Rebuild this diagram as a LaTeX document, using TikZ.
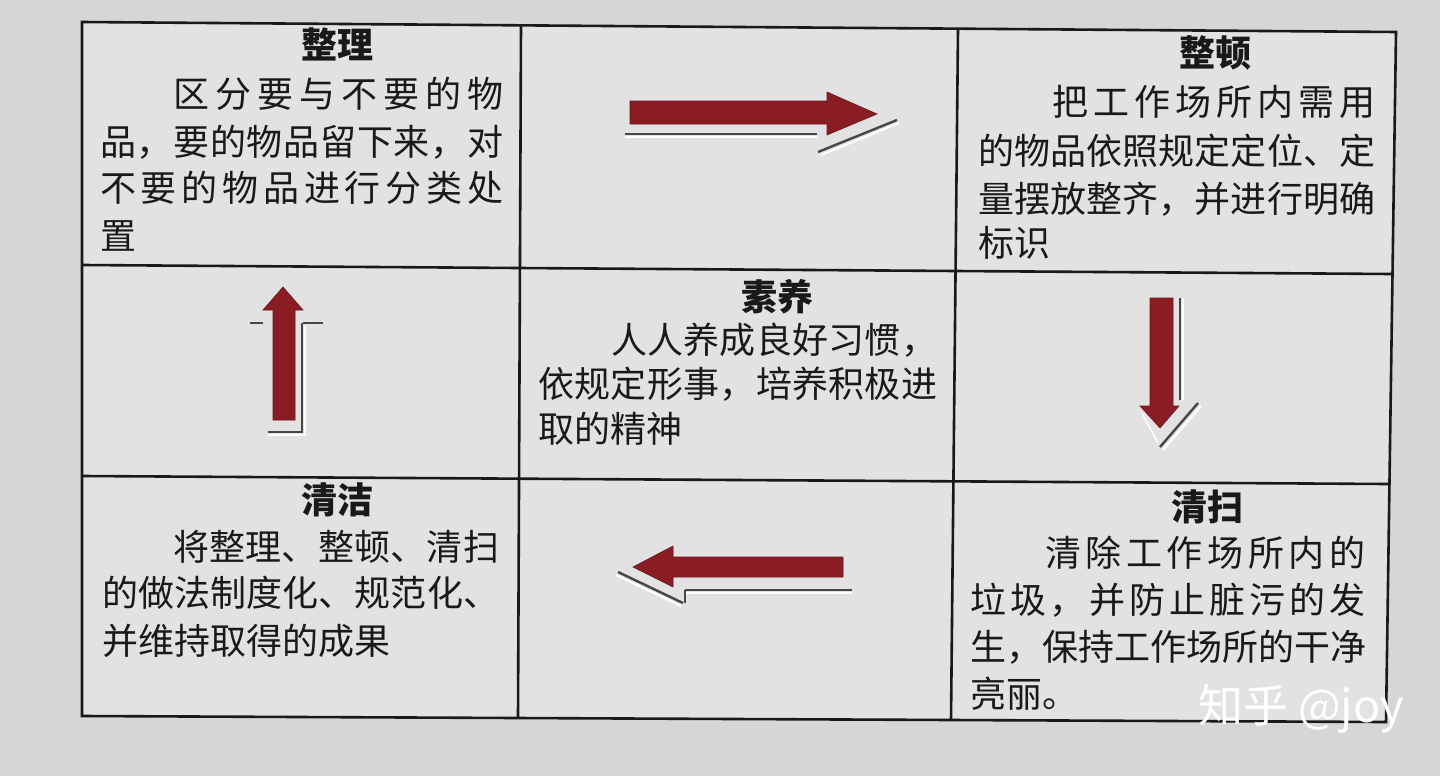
\documentclass[tikz,border=0pt]{standalone}
\usepackage{fontspec}
\setmainfont{Noto Sans CJK SC}
\newcommand\spreadtext[2]{\makebox[#1][s]{\spreadA#2\relax}}
\def\spreadA#1{#1\spreadB}
\def\spreadB#1{\ifx#1\relax\else\hfill#1\expandafter\spreadB\fi}
\definecolor{bgcol}{RGB}{214,214,214}
\definecolor{tablecol}{RGB}{226,226,226}
\definecolor{arrowred}{RGB}{138,28,36}
\definecolor{shadowgray}{RGB}{70,70,70}
\definecolor{inkcol}{RGB}{25,25,25}
\tikzset{
  gridline/.style={draw=inkcol, line width=2.6pt},
  body/.style={anchor=west, inner sep=0pt, text=inkcol, font=\fontsize{36}{36}\selectfont},
  celltitle/.style={inner sep=0pt, text=inkcol, font=\fontsize{36}{36}\selectfont\bfseries},
  blockarrow/.style={fill=arrowred, draw=arrowred!80!black, line width=0.6pt},
  shade/.style={draw=shadowgray, line width=2.4pt},
  glint/.style={draw=white, line width=2pt},
}
\begin{document}
\begin{tikzpicture}[x=1pt,y=-1pt]
\useasboundingbox (0,0) rectangle (1440,776);
\fill[bgcol] (0,0) rectangle (1440,776);
% grid corners
\coordinate (TL) at (82,22);
\coordinate (TR) at (1396,32);
\coordinate (BL) at (82,716);
\coordinate (BR) at (1386,722);
\coordinate (C1t) at (521,24);
\coordinate (C1b) at (518,718);
\coordinate (C2t) at (958,29);
\coordinate (C2b) at (951,720);
\coordinate (R1l) at (82,265);
\coordinate (R1r) at (1392,274);
\coordinate (R2l) at (82,476);
\coordinate (R2r) at (1388,484);
\fill[tablecol] (TL) -- (TR) -- (BR) -- (BL) -- cycle;
\draw[gridline] (TL) -- (TR) -- (BR) -- (BL) -- cycle;
\draw[gridline] (C1t) -- (C1b);
\draw[gridline] (C2t) -- (C2b);
\draw[gridline] (R1l) -- (R1r);
\draw[gridline] (R2l) -- (R2r);

% cell 1: 整理
\node[celltitle] (t1) at (337,44) {整理};
\node[body] (a1) at (173,94) {\spreadtext{330pt}{区分要与不要的物}};
\node[body] (a2) at (100,142) {\spreadtext{403pt}{品，要的物品留下来，对}};
\node[body] (a3) at (100,188) {\spreadtext{403pt}{不要的物品进行分类处}};
\node[body] (a4) at (100,236) {置};

% cell 3: 整顿
\node[celltitle] (t3) at (1215,53) {整顿};
\node[body] (b1) at (1052,102) {\spreadtext{323pt}{把工作场所内需用}};
\node[body] (b2) at (978,151) {\spreadtext{397pt}{的物品依照规定定位、定}};
\node[body] (b3) at (978,199) {\spreadtext{397pt}{量摆放整齐，并进行明确}};
\node[body] (b4) at (978,243) {标识};

% cell 5: 素养
\node[celltitle] (t5) at (777,297) {素养};
\node[body] (c1) at (611,340) {\spreadtext{326pt}{人人养成良好习惯，}};
\node[body] (c2) at (538,384) {\spreadtext{399pt}{依规定形事，培养积极进}};
\node[body] (c3) at (538,429) {取的精神};

% cell 7: 清洁
\node[celltitle] (t7) at (337,500) {清洁};
\node[body] (d1) at (173,547) {\spreadtext{326pt}{将整理、整顿、清扫}};
\node[body] (d2) at (102,593) {\spreadtext{397pt}{的做法制度化、规范化、}};
\node[body] (d3) at (102,641) {并维持取得的成果};

% cell 9: 清扫
\node[celltitle] (t9) at (1207,507) {清扫};
\node[body] (e1) at (1045,553) {\spreadtext{320pt}{清除工作场所内的}};
\node[body] (e2) at (970,600) {\spreadtext{395pt}{垃圾，并防止脏污的发}};
\node[body] (e3) at (970,647) {\spreadtext{395pt}{生，保持工作场所的干净}};
\node[body] (e4) at (970,694) {亮丽。};

% arrow right (top middle)
\draw[glint] (625,137) -- (817,137);
\draw[glint] (821,155) -- (899,123);
\draw[shade] (625,134) -- (817,134);
\draw[shade] (818,152) -- (897,120);
\path[blockarrow] (630,101) -- (827,101) -- (827,92) -- (877,114) -- (827,135) -- (827,124) -- (630,124) -- cycle;

% arrow down (right middle)
\draw[glint] (1183,298) -- (1183,400);
\draw[glint] (1201,406) -- (1163,450);
\draw[shade] (1180,298) -- (1180,400);
\draw[shade] (1198,403) -- (1160,447);
\draw[draw=white, line width=1.6pt] (1142,413) -- (1158,443);
\path[blockarrow] (1150,298) -- (1173,298) -- (1173,406) -- (1179,406) -- (1160,428) -- (1140,406) -- (1150,406) -- cycle;

% arrow up (left middle)
\draw[glint] (305,326) -- (305,435) -- (268,435);
\draw[shade] (302,323) -- (302,432) -- (268,432);
\draw[shade] (250,323) -- (263,323);
\draw[shade] (303,323) -- (323,323);
\path[blockarrow] (273,420) -- (273,310) -- (263,310) -- (283,287) -- (303,310) -- (295,310) -- (295,420) -- cycle;

% arrow left (bottom middle)
\draw[glint] (685,593) -- (852,593);
\draw[glint] (616,575) -- (681,606);
\draw[shade] (685,590) -- (852,590);
\draw[shade] (618,572) -- (683,603);
\draw[shade, line width=1.6pt] (685,590) -- (685,603);
\path[blockarrow] (843,557) -- (673,557) -- (673,546) -- (633,567) -- (673,587) -- (673,577) -- (843,577) -- cycle;

% watermark
\node[anchor=west, inner sep=0pt, text=white, font=\fontsize{45}{45}\selectfont] (wm) at (1198,709) {知乎 @joy};
\end{tikzpicture}
\end{document}
